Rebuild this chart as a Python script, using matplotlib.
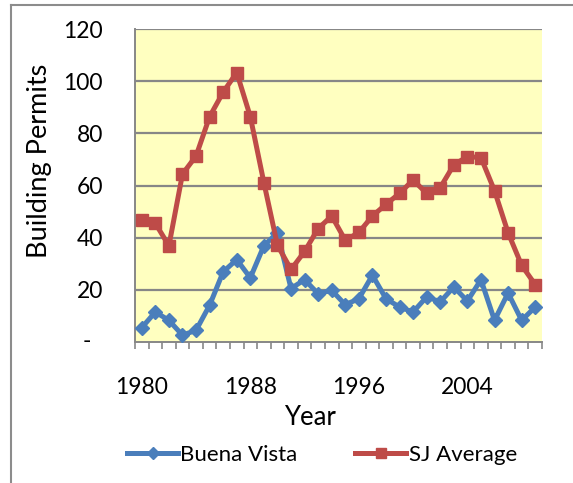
import matplotlib
matplotlib.use("Agg")
import matplotlib.pyplot as plt
from matplotlib.lines import Line2D

years = list(range(1980, 2010))
buena_vista = [5.5, 11.5, 8.3, 2.6, 4.5, 14.1, 26.9, 31.6, 24.6, 36.9,
               41.9, 20.5, 23.9, 18.5, 19.8, 14.3, 16.6, 25.6, 16.6, 13.4,
               11.5, 17.3, 15.4, 21.1, 15.7, 23.9, 8.3, 18.8, 8.3, 13.4]
sj_average = [46.7, 45.5, 36.9, 64.4, 71.3, 86.4, 95.8, 103.3, 86.4, 61.1,
              37.1, 27.8, 34.7, 43.5, 48.3, 39.0, 42.0, 48.3, 52.8, 57.0,
              62.1, 57.0, 59.2, 67.9, 71.1, 70.7, 58.0, 41.9, 29.4, 22.0]
ytick_vals = [0, 20, 40, 60, 80, 100, 120]
ytick_labels = ["", "20", "40", "60", "80", "100", "120"]
zero_label = "-"
xlabel_years = [1980, 1988, 1996, 2004]

plt.rcParams['font.family'] = ['Lato', 'DejaVu Sans']

blue = '#4A7EBB'
red = '#BE4B48'
grid = '#878787'

fig = plt.figure(figsize=(5.73, 4.83), dpi=100)
ax = fig.add_axes([135/573, 1-342/483, 407/573, 313/483])
ax.set_facecolor('#FFFFC0')

x = list(range(len(years)))
ax.plot(x, buena_vista, color=blue, lw=3.6, marker='D', ms=7.5, zorder=3,
        label='Buena Vista')
ax.plot(x, sj_average, color=red, lw=3.6, marker='s', ms=8.5, zorder=4,
        label='SJ Average')

ax.set_xlim(-0.5, len(years) - 0.5)
ax.set_ylim(0, 120)
for v in ytick_vals[1:]:
    ax.axhline(v, color=grid, lw=1.6, zorder=1)

ax.set_yticks(ytick_vals)
ax.set_yticklabels(ytick_labels)
ax.tick_params(axis='y', length=0, pad=23, labelsize=16.5)
# accounting-style zero shown as a dash, set further left
ax.annotate(zero_label, xy=(0, 0), xycoords=('axes fraction', 'data'),
            xytext=(-32, 0), textcoords='offset points',
            ha='right', va='center', fontsize=16.5)

ax.set_xticks([years.index(y) for y in xlabel_years])
ax.set_xticklabels([str(y) for y in xlabel_years])
ax.set_xticks([i - 0.5 for i in range(len(years) + 1)], minor=True)
ax.tick_params(axis='x', which='major', length=0, pad=25, labelsize=16.5)
ax.tick_params(axis='x', which='minor', length=5, width=1.2, color=grid)

for s in ['top', 'right']:
    ax.spines[s].set_visible(False)
for s in ['left', 'bottom']:
    ax.spines[s].set_color(grid)
    ax.spines[s].set_linewidth(1.4)

ax.set_ylabel('Building Permits', fontsize=19.5)
ax.yaxis.set_label_coords(-0.205, 0.58)
ax.set_xlabel('Year', fontsize=18.5)
ax.xaxis.set_label_coords(0.43, -0.2)
ax.xaxis.label.set_va('top')

handles = [Line2D([], [], color=blue, lw=3.6, marker='D', ms=6.5),
           Line2D([], [], color=red, lw=3.6, marker='s', ms=7.5)]
fig.legend(handles, ['Buena Vista', 'SJ Average'], loc='center',
           bbox_to_anchor=(322/573, 1-455/483), ncol=2, frameon=False,
           fontsize=16, handlelength=2.3, handletextpad=0.1, columnspacing=2.6)

# outer chart frame
fig.add_artist(Line2D([11/573, 11/573], [0, 1-5/483], color='#8C8C8C', lw=1.5))
fig.add_artist(Line2D([11/573, 1], [1-5/483, 1-5/483], color='#8C8C8C', lw=1.5))

fig.savefig('out.png', dpi=100)
